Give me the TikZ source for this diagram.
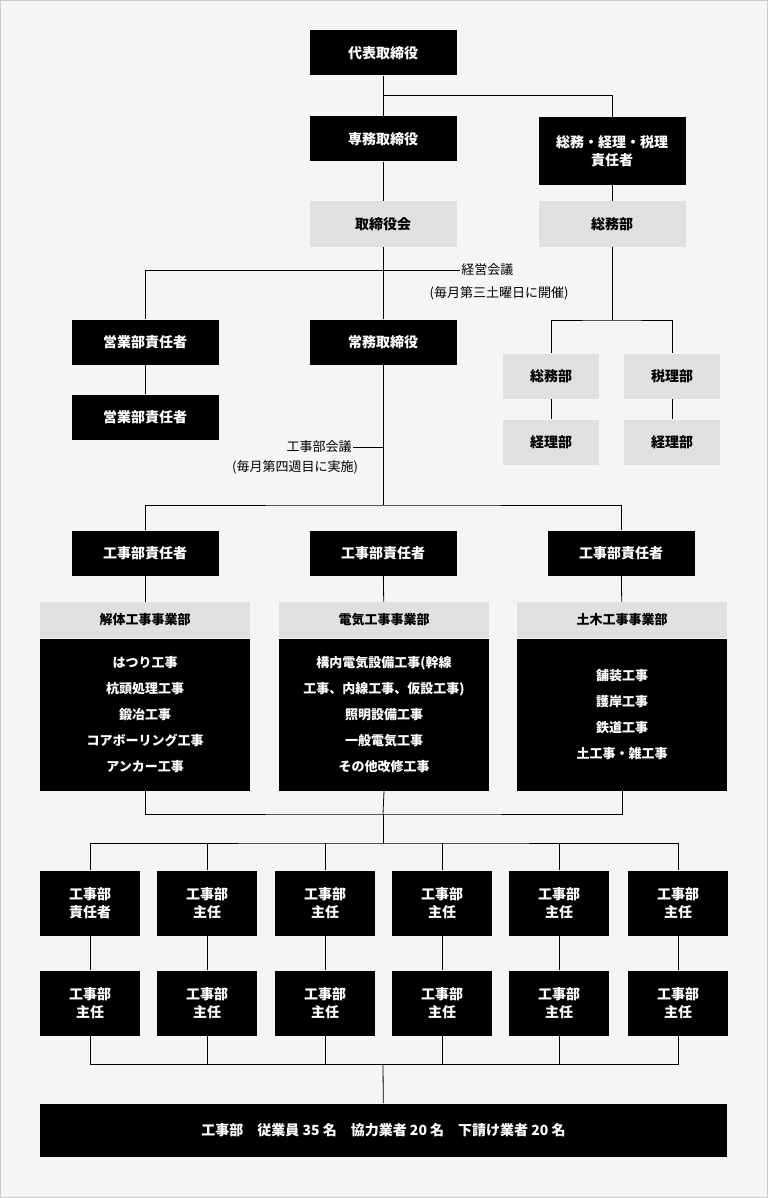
\documentclass[tikz,border=0pt]{standalone}
\usepackage{fontspec}
\setmainfont{Noto Sans CJK JP}
\begin{document}
\begin{tikzpicture}[x=1pt,y=-1pt,thick,
  blk/.style={fill=black,text=white,minimum width=147pt,minimum height=45pt,inner sep=0pt,font=\bfseries\fontsize{14}{18}\selectfont,align=center},
  gry/.style={fill=black!12,text=black,minimum width=147pt,minimum height=45pt,inner sep=0pt,font=\bfseries\fontsize{14}{18}\selectfont,align=center},
  sml/.style={minimum width=96pt},
  col/.style={minimum width=100pt,minimum height=65pt},
  body/.style={fill=black,text=white,minimum width=210pt,minimum height=152pt,inner sep=0pt,font=\bfseries\fontsize{13}{26}\selectfont,align=center},
  hdr/.style={fill=black!12,minimum width=210pt,minimum height=36pt,inner sep=0pt,font=\bfseries\fontsize{13}{16}\selectfont},
  lbl/.style={font=\fontsize{13}{20}\selectfont,align=center,inner sep=1pt}]
\draw[black!20,fill=black!4] (0.5,0.5) rectangle (767.5,1197.5);
\useasboundingbox (0,0) rectangle (768,1198);

\node[blk] (ceo) at (383,53) {代表取締役};
\node[blk] (senmu) at (383,139) {専務取締役};
\node[blk,minimum height=68pt] (soumuR) at (612,151) {総務・経理・税理\\責任者};
\node[gry] (board) at (383,224) {取締役会};
\node[gry] (soumu) at (612,224) {総務部};
\node[blk] (joumu) at (383,342) {常務取締役};
\node[blk] (eigyo1) at (145,342) {営業部責任者};
\node[blk] (eigyo2) at (145,417) {営業部責任者};
\node[gry,sml] (soumu2) at (551,376) {総務部};
\node[gry,sml] (zeiri) at (672,376) {税理部};
\node[gry,sml] (keiri1) at (551,442) {経理部};
\node[gry,sml] (keiri2) at (672,442) {経理部};

\foreach \n/\x in {k1/145,k2/383,k3/621}
  \node[blk] (\n) at (\x,553) {工事部責任者};
\node[hdr] (h1) at (145,620) {解体工事事業部};
\node[hdr] (h2) at (384,620) {電気工事事業部};
\node[hdr] (h3) at (622,620) {土木工事事業部};
\node[body,anchor=north] (b1) at (h1.south) {はつり工事\\杭頭処理工事\\鍛冶工事\\コアボーリング工事\\アンカー工事};
\node[body,anchor=north] (b2) at (h2.south) {構内電気設備工事(幹線\\工事、内線工事、仮設工事)\\照明設備工事\\一般電気工事\\その他改修工事};
\node[body,anchor=north] (b3) at (h3.south) {舗装工事\\護岸工事\\鉄道工事\\土工事・雑工事};

\foreach \i/\x/\t in {1/90/責任者,2/207/主任,3/325/主任,4/442/主任,5/559/主任,6/678/主任}{
  \node[blk,col] (u\i) at (\x,903) {工事部\\\t};
  \node[blk,col] (l\i) at (\x,1003) {工事部\\主任};
  \draw (u\i) -- (l\i);
}
\node[blk,minimum width=687pt,minimum height=53pt,font=\bfseries\fontsize{14}{18}\selectfont] (staff) at (383.5,1130)
  {工事部\quad 従業員 35 名\quad 協力業者 20 名\quad 下請け業者 20 名};

% connectors
\coordinate (j1) at (383,95);
\draw (ceo) -- (senmu) -- (board) -- (joumu);
\draw (j1) -| (soumuR);
\draw (soumuR) -- (soumu);
\coordinate (j2) at (612,320);
\draw (soumu) -- (j2);
\draw (soumu2.north) |- (j2) -| (zeiri.north);
\draw (soumu2) -- (keiri1);
\draw (zeiri) -- (keiri2);
\coordinate (j3) at (383,270);
\draw (j3) -| (eigyo1);
\draw (eigyo1) -- (eigyo2);
\coordinate (m1) at (460,270);
\draw (j3) -- (m1);
\node[lbl,anchor=west] (kaigi1) at (m1) {経営会議};
\node[lbl] (kaigi1b) at (499,293) {(毎月第三土曜日に開催)};
\coordinate (j4) at (383,505);
\draw (joumu) -- (j4);
\coordinate (m2) at (353,447);
\draw (m2) -- (383,447);
\node[lbl,anchor=east] (kaigi2) at (m2) {工事部会議};
\node[lbl] (kaigi2b) at (295,467) {(毎月第四週目に実施)};
\draw (k1.north) |- (j4) -| (k3.north);
\draw (k2) -- (h2);
\draw (k1) -- (h1);
\draw (k3) -- (h3);
\coordinate (j5) at (383,814);
\draw (b1.south) |- (j5) -| (b3.south);
\draw (b2.south) -- (j5);
\coordinate (j6) at (383,843);
\draw (j5) -- (j6);
\draw (u1.north) |- (j6) -| (u6.north);
\foreach \i in {2,...,5} \draw (u\i.north) -- (u\i.north |- j6);
\coordinate (j7) at (383,1064);
\draw (l1.south) |- (j7) -| (l6.south);
\foreach \i in {2,...,5} \draw (l\i.south) -- (l\i.south |- j7);
\draw (j7) -- (staff);
\end{tikzpicture}
\end{document}
